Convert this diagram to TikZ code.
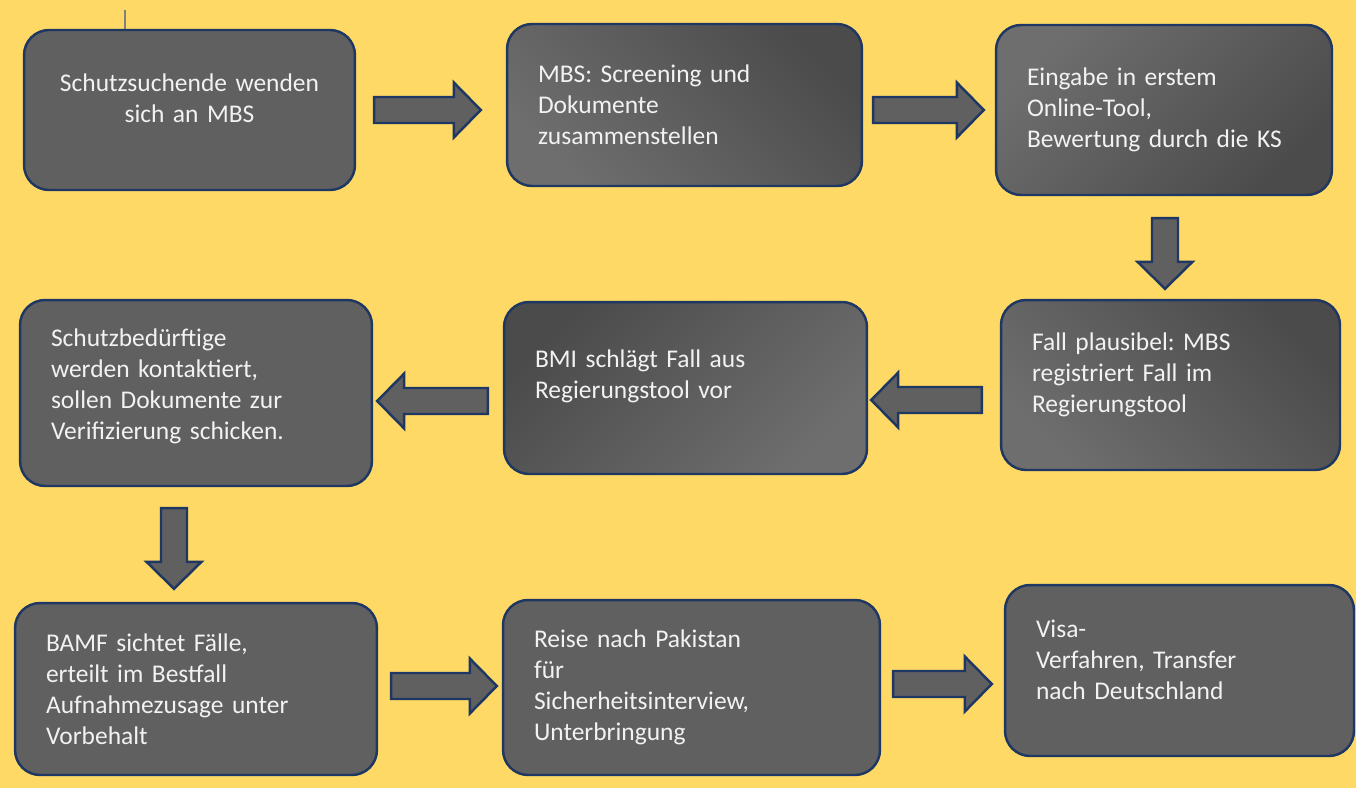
\documentclass[tikz,border=0pt]{standalone}
\usepackage{fontspec}
\setmainfont{Carlito}
\usetikzlibrary{calc}
\frenchspacing

\definecolor{bgyellow}{HTML}{FFD966}
\definecolor{boxgray}{HTML}{606060}
\definecolor{boxlight}{HTML}{6E6E6E}
\definecolor{boxdark}{HTML}{4B4B4B}
\definecolor{navy}{HTML}{1F3763}
\definecolor{textwhite}{HTML}{F2F2F2}

% Block arrow from #1 to #2 (tip at #2)
\newcommand{\blockarrow}[2]{%
  \coordinate (#2-h) at ($(#2)!0.54cm!(#1)$);
  \draw[blockarr]
    ($(#1)!0.26cm!-90:(#2)$)
    -- ($(#2-h)!0.26cm!90:(#1)$)
    -- ($(#2-h)!0.55cm!90:(#1)$)
    -- (#2)
    -- ($(#2-h)!0.55cm!-90:(#1)$)
    -- ($(#2-h)!0.26cm!-90:(#1)$)
    -- ($(#1)!0.26cm!90:(#2)$)
    -- cycle;}

\begin{document}
\begin{tikzpicture}[x=0.02cm, y=-0.02cm,
  stepbox/.style={draw=navy, line width=1.4pt, fill=boxgray,
    rounded corners=0.5cm, inner xsep=0.62cm, inner ysep=0pt,
    align=left, text=textwhite, font=\fontsize{14.5}{17.6}\selectfont},
  lightleft/.style={top color=boxlight, bottom color=boxdark, shading angle=135},
  lighttop/.style={top color=boxlight, bottom color=boxdark, shading angle=45},
  darktop/.style={top color=boxdark, bottom color=boxlight, shading angle=45},
  blockarr/.style={draw=navy, line width=1.4pt, fill=boxgray, line join=miter}]

  % Background
  \useasboundingbox (0,0) rectangle (1356,788);
  \fill[bgyellow] (0,0) rectangle (1356,788);
  \draw[gray, line width=1pt] (125,10) -- (125,48);

  % First row
  \node[stepbox, align=center, text width=5.38cm, minimum height=3.2cm] (s1) at (189.5,110)
    {Schutzsuchende wenden\\sich an MBS\par\vspace*{0.48cm}};
  \node[stepbox, lightleft, text width=5.86cm, minimum height=3.24cm] (s2) at (684.5,105)
    {MBS: Screening und\\Dokumente\\zusammenstellen};
  \node[stepbox, lighttop, text width=5.48cm, minimum height=3.4cm] (s3) at (1164,110)
    {Eingabe in erstem\\Online-Tool,\\Bewertung durch die KS};

  % Second row
  \node[stepbox, lightleft, text width=5.54cm, minimum height=3.4cm] (s4) at (1170.5,385)
    {Fall plausibel: MBS\\registriert Fall im\\Regierungstool\par\vspace*{0.4cm}};
  \node[stepbox, darktop, text width=6.02cm, minimum height=3.44cm] (s5) at (685.5,388)
    {BMI schlägt Fall aus\\Regierungstool vor\par\vspace*{0.48cm}};
  \node[stepbox, text width=5.8cm, minimum height=3.72cm] (s6) at (196,393)
    {Schutzbedürftige\\werden kontaktiert,\\sollen Dokumente zur\\Verifizierung schicken.\par\vspace*{0.28cm}};

  % Third row
  \node[stepbox, text width=6cm, minimum height=3.44cm] (s7) at (196,689)
    {BAMF sichtet Fälle,\\erteilt im Bestfall\\Aufnahmezusage unter\\Vorbehalt};
  \node[stepbox, text width=6.3cm, minimum height=3.5cm] (s8) at (691.5,687.5)
    {Reise nach Pakistan\\für\\Sicherheitsinterview,\\Unterbringung};
  \node[stepbox, text width=5.74cm, minimum height=3.42cm] (s9) at (1179.5,670.5)
    {Visa-\\Verfahren, Transfer\\nach Deutschland\par\vspace*{0.44cm}};

  % Arrow ends
  \coordinate (a1s) at ($(s1.east)+(18,0)$);
  \coordinate (a1e) at ($(s2.west |- a1s)+(-25,0)$);
  \coordinate (a2s) at ($(s2.east)+(10,5)$);
  \coordinate (a2e) at ($(s3.west |- a2s)+(-11,0)$);
  \coordinate (a3s) at ($(s3.south)+(1,22)$);
  \coordinate (a3e) at ($(s4.north -| a3s)+(0,-10)$);
  \coordinate (a4s) at ($(s4.west)+(-18,15)$);
  \coordinate (a4e) at ($(s5.east |- a4s)+(3,0)$);
  \coordinate (a5s) at ($(s5.west)+(-15,13)$);
  \coordinate (a5e) at ($(s6.east |- a5s)+(4,0)$);
  \coordinate (a6s) at ($(s6.south)+(-22,21)$);
  \coordinate (a6e) at ($(s7.north -| a6s)+(0,-13)$);
  \coordinate (a7s) at ($(s7.east)+(13,-3)$);
  \coordinate (a7e) at ($(s8.west |- a7s)+(-5,0)$);
  \coordinate (a8s) at ($(s8.east)+(12,-3.5)$);
  \coordinate (a8e) at ($(s9.west |- a8s)+(-12,0)$);

  % Block arrows
  \blockarrow{a1s}{a1e}
  \blockarrow{a2s}{a2e}
  \blockarrow{a3s}{a3e}
  \blockarrow{a4s}{a4e}
  \blockarrow{a5s}{a5e}
  \blockarrow{a6s}{a6e}
  \blockarrow{a7s}{a7e}
  \blockarrow{a8s}{a8e}

\end{tikzpicture}
\end{document}
